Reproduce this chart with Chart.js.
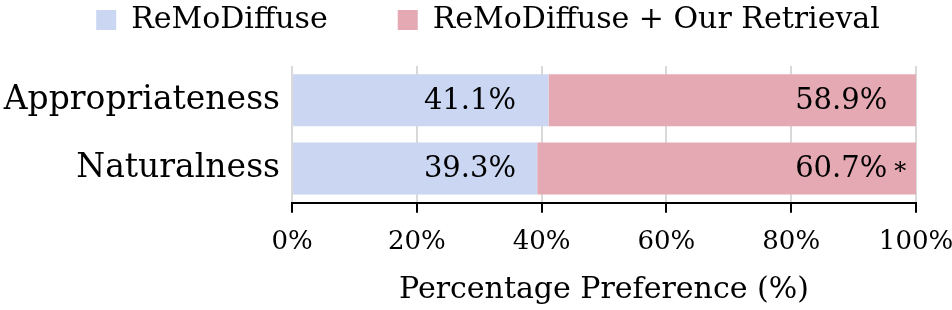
<!DOCTYPE html>
<html>
<head>
<meta charset="utf-8">
<script src="https://cdn.jsdelivr.net/npm/chart.js@4.4.1/dist/chart.umd.min.js"></script>
<style>
  html, body { margin: 0; padding: 0; background: #fff; }
  #wrap { width: 952px; height: 310px; }
</style>
</head>
<body>
<div id="wrap"><canvas id="chart"></canvas></div>
<script>
const categories = ['Appropriateness', 'Naturalness'];
const seriesNames = ['ReMoDiffuse', 'ReMoDiffuse + Our Retrieval'];
const baseline = [41.1, 39.3];
const retrieval = [58.9, 60.7];
const retrievalMarks = ['', '*'];
const xTicks = [0, 20, 40, 60, 80, 100];

const FONT = "'DejaVu Serif', serif";

// value labels inside the bars, right aligned at a fixed spot per series
const barText = {
    id: 'barText',
    afterDatasetsDraw(chart, args, opts) {
        const ctx = chart.ctx;
        const xScale = chart.scales.x;
        ctx.save();
        ctx.fillStyle = '#000';
        ctx.textBaseline = 'middle';
        chart.data.datasets.forEach((ds, i) => {
            const meta = chart.getDatasetMeta(i);
            const x = xScale.getPixelForValue(opts.anchors[i]);
            meta.data.forEach((bar, j) => {
                ctx.font = '29px ' + FONT;
                ctx.textAlign = 'right';
                ctx.fillText(ds.data[j].toFixed(1) + '%', x, bar.y + 1);
                const mark = ds.marks ? ds.marks[j] : '';
                if (mark) {
                    ctx.font = '24px ' + FONT;
                    ctx.textAlign = 'left';
                    ctx.fillText(mark, x + 7, bar.y + 4);
                }
            });
        });
        ctx.restore();
    }
};

// legend: extra gap under it, and a small sideways nudge
const legendTweak = {
    id: 'legendTweak',
    beforeLayout(chart, args, opts) {
        const lg = chart.legend;
        if (lg && !lg._tweaked) {
            const fit = lg.fit;
            lg.fit = function () {
                fit.call(this);
                this.height += opts.extra;
            };
            const draw = lg.draw;
            lg.draw = function () {
                const c = this.ctx;
                c.save();
                c.translate(opts.shift, 0);
                draw.apply(this, arguments);
                c.restore();
            };
            lg._tweaked = true;
        }
    }
};

new Chart(document.getElementById('chart'), {
    type: 'bar',
    data: {
        labels: categories,
        datasets: [{
            label: seriesNames[0],
            data: baseline,
            backgroundColor: '#cad6f2',
            barPercentage: 0.76,
            categoryPercentage: 1
        }, {
            label: seriesNames[1],
            data: retrieval,
            marks: retrievalMarks,
            backgroundColor: '#e5a9b3',
            barPercentage: 0.76,
            categoryPercentage: 1
        }]
    },
    options: {
        indexAxis: 'y',
        responsive: true,
        maintainAspectRatio: false,
        animation: false,
        layout: {
            padding: { top: -5, right: 0, left: 0, bottom: 2 }
        },
        scales: {
            x: {
                stacked: true,
                min: 0,
                max: 100,
                afterBuildTicks: (s) => { s.ticks = xTicks.map(v => ({ value: v })); },
                afterFit: (s) => { s.paddingRight = 36; },
                grid: {
                    color: '#d9d9d9',
                    lineWidth: 2,
                    tickColor: '#000',
                    tickWidth: 2,
                    tickLength: 10
                },
                border: { color: '#000', width: 2 },
                ticks: {
                    color: '#000',
                    font: { family: FONT, size: 26 },
                    padding: 14,
                    callback: (v) => v + '%'
                },
                title: {
                    display: true,
                    text: 'Percentage Preference (%)',
                    color: '#000',
                    font: { family: FONT, size: 30 },
                    padding: { top: 0, bottom: 0 }
                }
            },
            y: {
                stacked: true,
                grid: { display: false, drawTicks: false },
                border: { display: false },
                ticks: {
                    color: '#000',
                    font: { family: FONT, size: 33 },
                    padding: 12
                },
                afterFit: (s) => { s.width = 292; }
            }
        },
        plugins: {
            legend: {
                position: 'top',
                labels: {
                    color: '#000',
                    font: { family: FONT, size: 30 },
                    boxWidth: 20,
                    boxHeight: 20,
                    padding: 10,
                    generateLabels: (chart) => {
                        const items = Chart.defaults.plugins.legend.labels.generateLabels(chart);
                        items[0].text += '\u2003\u2003';
                        return items;
                    }
                }
            },
            legendTweak: { extra: 21, shift: 12 },
            tooltip: { enabled: false },
            barText: { anchors: [35.9, 95.4] }
        }
    },
    plugins: [barText, legendTweak]
});
</script>
</body>
</html>
